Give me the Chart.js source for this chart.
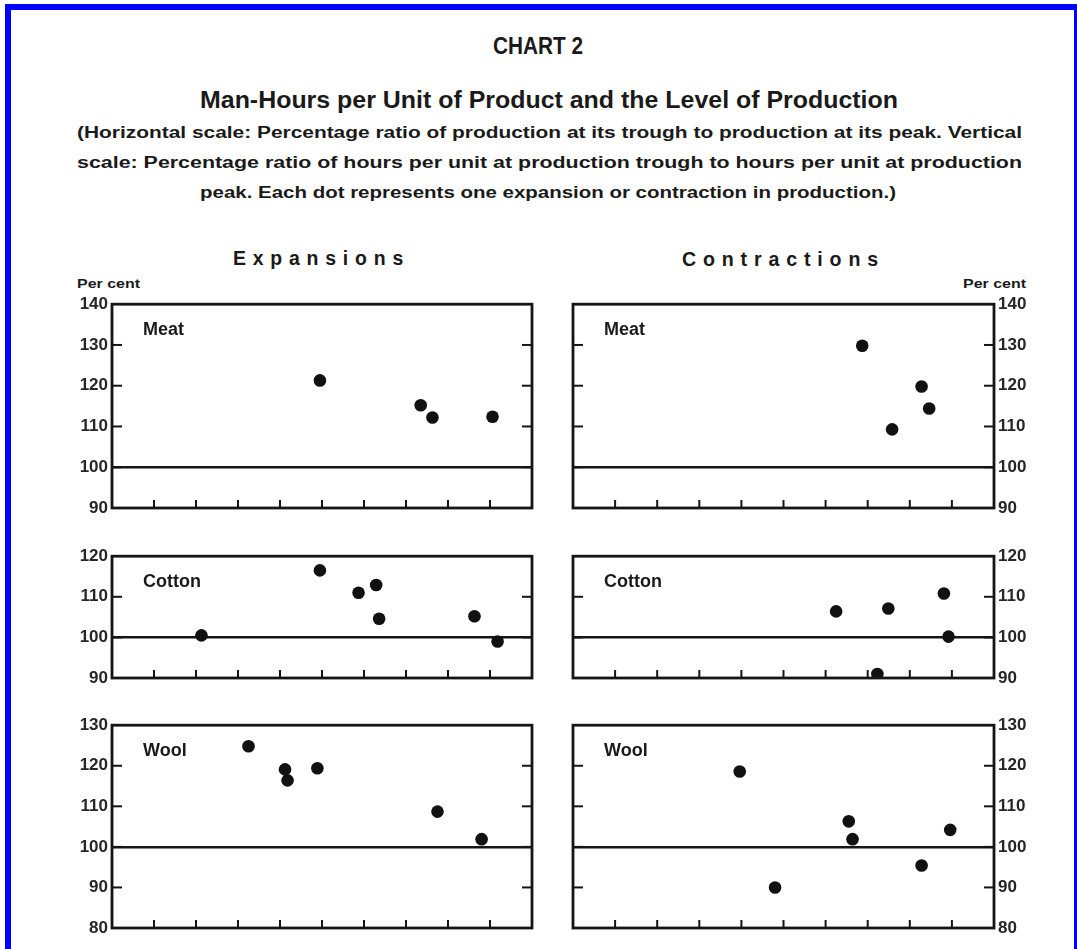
<!DOCTYPE html>
<html>
<head>
<meta charset="utf-8">
<script src="https://cdn.jsdelivr.net/npm/chart.js@4.4.1/dist/chart.umd.min.js"></script>
<style>
  html, body { margin: 0; padding: 0; background: #fff; width: 1077px; height: 949px; overflow: hidden; }
  #frame { position: absolute; left: 5px; top: 4px; width: 1075px; height: 1000px; border: 6px solid #0000ff; box-sizing: border-box; }
  .t { position: absolute; white-space: nowrap; font-family: "Liberation Sans", Arial, sans-serif; font-weight: bold; color: #1a1a1a; transform-origin: left center; line-height: 1; }
  canvas.panel { position: absolute; }
</style>
</head>
<body>
<div id="frame"></div>

<div class="t fit" data-x="493" data-y="46" data-w="90" style="font-size:24px">CHART 2</div>
<div class="t fit" data-x="200" data-y="100" data-w="698" style="font-size:23px">Man-Hours per Unit of Product and the Level of Production</div>
<div class="t fit" data-x="77" data-y="133" data-w="945" style="font-size:16px">(Horizontal scale: Percentage ratio of production at its trough to production at its peak. Vertical</div>
<div class="t fit" data-x="77" data-y="163" data-w="945" style="font-size:16px">scale: Percentage ratio of hours per unit at production trough to hours per unit at production</div>
<div class="t fit" data-x="200" data-y="193" data-w="696" style="font-size:16px">peak. Each dot represents one expansion or contraction in production.)</div>

<div class="t fit" data-x="233" data-y="258" data-w="177" style="font-size:20px;letter-spacing:7px">Expansions</div>
<div class="t fit" data-x="682" data-y="259" data-w="203" style="font-size:20px;letter-spacing:7px">Contractions</div>
<div class="t fit" data-x="77" data-y="283" data-w="63" style="font-size:13px">Per cent</div>
<div class="t fit" data-x="963" data-y="283" data-w="63" style="font-size:13px">Per cent</div>

<canvas class="panel" id="meatExp"></canvas>
<canvas class="panel" id="meatCon"></canvas>
<canvas class="panel" id="cottonExp"></canvas>
<canvas class="panel" id="cottonCon"></canvas>
<canvas class="panel" id="woolExp"></canvas>
<canvas class="panel" id="woolCon"></canvas>

<script>
// Horizontal: production ratio (no labels printed); vertical: hours-per-unit ratio, per cent.
const meatExpansionsX = [49.5, 73.5, 76.3, 90.6];
const meatExpansionsY = [121.3, 115.2, 112.2, 112.4];
const meatContractionsX = [68.7, 75.8, 82.8, 84.6];
const meatContractionsY = [129.8, 109.3, 119.8, 114.4];

const cottonExpansionsX = [21.3, 49.5, 58.7, 62.9, 63.6, 86.3, 91.8];
const cottonExpansionsY = [100.5, 116.5, 111.0, 112.9, 104.6, 105.2, 99.0];
const cottonContractionsX = [62.5, 72.3, 74.9, 88.1, 89.2];
const cottonContractionsY = [106.4, 91.0, 107.1, 110.8, 100.2];

const woolExpansionsX = [32.5, 41.2, 41.8, 48.9, 77.5, 88.0];
const woolExpansionsY = [124.8, 119.1, 116.4, 119.4, 108.7, 101.9];
const woolContractionsX = [39.6, 48.0, 65.5, 66.4, 82.8, 89.6];
const woolContractionsY = [118.6, 90.0, 106.3, 101.9, 95.4, 104.2];

const meatRange = [90, 140];
const cottonRange = [90, 120];
const woolRange = [80, 130];
const xRange = [0, 100];

// Fit heading lines to their measured widths
document.querySelectorAll('.fit').forEach(el => {
  const r = el.getBoundingClientRect();
  const target = parseFloat(el.dataset.w);
  el.style.left = el.dataset.x + 'px';
  el.style.top = (parseFloat(el.dataset.y) - r.height / 2) + 'px';
  el.style.transform = 'scaleX(' + (target / r.width) + ')';
});

// Box frame, inward tick marks and the commodity label
const innerTicks = {
  id: 'innerTicks',
  afterDatasetsDraw(chart, args, opts) {
    const { ctx, chartArea: a, scales: { x, y } } = chart;
    ctx.save();
    ctx.strokeStyle = '#151515';
    ctx.lineWidth = 2;
    const seg = (x1, y1, x2, y2) => { ctx.beginPath(); ctx.moveTo(x1, y1); ctx.lineTo(x2, y2); ctx.stroke(); };
    y.ticks.forEach(t => {
      if (t.value === y.min || t.value === y.max) return;
      const py = y.getPixelForValue(t.value);
      seg(a.left, py, a.left + 10, py);
      seg(a.right - 10, py, a.right, py);
    });
    x.ticks.forEach(t => {
      if (t.value === x.min || t.value === x.max) return;
      const px = x.getPixelForValue(t.value);
      seg(px, a.bottom, px, a.bottom - 8);
    });
    ctx.lineWidth = 2.8;
    ctx.strokeRect(a.left, a.top, a.right - a.left, a.bottom - a.top);
    ctx.font = 'bold 18px "Liberation Sans", Arial, sans-serif';
    ctx.fillStyle = '#1a1a1a';
    ctx.textBaseline = 'middle';
    ctx.fillText(opts.label, a.left + 31, a.top + 26);
    ctx.restore();
  }
};

function panel(id, box, side, label, xs, ys, range) {
  const cv = document.getElementById(id);
  cv.width = box.w; cv.height = box.h;
  cv.style.left = box.left + 'px'; cv.style.top = box.top + 'px';
  const pts = xs.map((v, i) => ({ x: v, y: ys[i] }));
  return new Chart(cv, {
    type: 'scatter',
    data: { datasets: [{ data: pts, pointRadius: 6.3, pointHoverRadius: 6.3, backgroundColor: '#111', borderWidth: 0 }] },
    options: {
      responsive: false,
      animation: false,
      devicePixelRatio: 1,
      layout: { padding: side === 'left' ? { left: 0, right: 8, top: 10, bottom: 22 } : { left: 13, right: 0, top: 10, bottom: 22 } },
      plugins: { legend: { display: false }, tooltip: { enabled: false }, innerTicks: { label } },
      scales: {
        x: {
          type: 'linear', min: xRange[0], max: xRange[1],
          ticks: { display: false, stepSize: 10 },
          grid: { display: false }, border: { display: false },
          afterFit: s => { s.height = 0; }
        },
        y: {
          position: side, min: range[0], max: range[1],
          ticks: { stepSize: 10, padding: 4, color: '#262626', font: { family: '"Liberation Sans", Arial, sans-serif', weight: 'bold', size: 17 } },
          grid: { drawTicks: false, lineWidth: 2.6, color: c => (c.tick && c.tick.value === 100) ? '#151515' : 'rgba(0,0,0,0)' },
          border: { display: false },
          afterFit: s => { s.width = side === 'left' ? 52 : 46; }
        }
      }
    },
    plugins: [innerTicks]
  });
}

panel('meatExp',   { left: 60,  top: 290, w: 480, h: 240 }, 'left',  'Meat',   meatExpansionsX,   meatExpansionsY,   meatRange);
panel('meatCon',   { left: 560, top: 290, w: 480, h: 240 }, 'right', 'Meat',   meatContractionsX, meatContractionsY, meatRange);
panel('cottonExp', { left: 60,  top: 542, w: 480, h: 158 }, 'left',  'Cotton', cottonExpansionsX, cottonExpansionsY, cottonRange);
panel('cottonCon', { left: 560, top: 542, w: 480, h: 158 }, 'right', 'Cotton', cottonContractionsX, cottonContractionsY, cottonRange);
panel('woolExp',   { left: 60,  top: 711, w: 480, h: 239 }, 'left',  'Wool',   woolExpansionsX,   woolExpansionsY,   woolRange);
panel('woolCon',   { left: 560, top: 711, w: 480, h: 239 }, 'right', 'Wool',   woolContractionsX, woolContractionsY, woolRange);
</script>
</body>
</html>
